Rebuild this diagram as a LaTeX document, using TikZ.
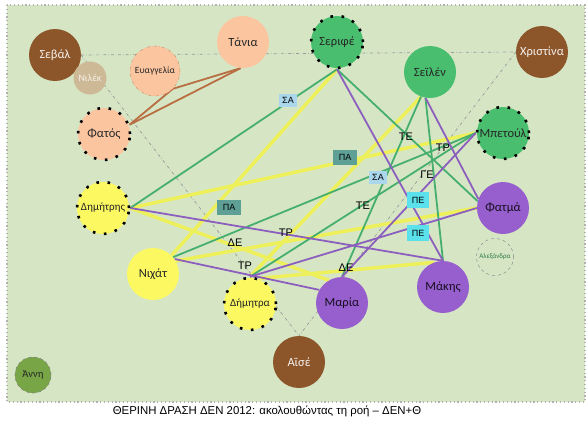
\documentclass[tikz,border=0pt]{standalone}
\usepackage{fontspec}
\setmainfont{Carlito}
\newfontfamily\labelfont{Liberation Sans}
\usepackage{xcolor}
\usepackage{tikz}
\usetikzlibrary{shapes.geometric, positioning}
\pgfdeclarelayer{background}
\pgfsetlayers{background,main}
\definecolor{bggreen}{RGB}{214,230,197}
\definecolor{nodebrown}{RGB}{140,86,42}
\definecolor{nodepeach}{RGB}{251,197,160}
\definecolor{nodeyellow}{RGB}{252,248,98}
\definecolor{nodegreen}{RGB}{72,190,110}
\definecolor{nodepurple}{RGB}{150,95,205}
\definecolor{nodeolive}{RGB}{120,165,70}
\definecolor{nodetan}{RGB}{205,185,150}
\definecolor{edgegreen}{RGB}{70,175,110}
\definecolor{edgeyellow}{RGB}{238,240,90}
\definecolor{edgepurple}{RGB}{140,95,190}
\definecolor{edgebrown}{RGB}{185,110,65}
\definecolor{boxblue}{RGB}{170,215,235}
\definecolor{boxteal}{RGB}{95,160,150}
\definecolor{boxcyan}{RGB}{90,225,235}
\tikzstyle{person} = [circle, minimum size=52pt, inner sep=0pt, font=\fontsize{12.5}{12.5}\selectfont]
\tikzstyle{brownnode} = [person, fill=nodebrown, text=white!92!nodebrown]
\tikzstyle{peachnode} = [person, fill=nodepeach, text=black!85]
\tikzstyle{yellownode} = [person, fill=nodeyellow, text=black!85]
\tikzstyle{greennode} = [person, fill=nodegreen, text=black!85]
\tikzstyle{purplenode} = [person, fill=nodepurple, text=black!85!nodepurple]
\tikzstyle{dotborder} = [draw=black, line width=2.6pt, dash pattern=on 2.6pt off 8.6pt]
\tikzstyle{guideline} = [draw=gray!80, dash dot, line width=0.7pt]
\tikzstyle{greenedge} = [draw=edgegreen, line width=1.8pt]
\tikzstyle{yellowedge} = [draw=edgeyellow, line width=3.5pt]
\tikzstyle{purpleedge} = [draw=edgepurple, line width=1.8pt]
\tikzstyle{brownedge} = [draw=edgebrown, line width=1.8pt]
\tikzstyle{tag} = [inner sep=1pt, font=\labelfont\fontsize{11}{11}\selectfont]
\tikzstyle{sabox} = [tag, fill=boxblue, minimum width=18pt, minimum height=13pt, font=\labelfont\fontsize{9}{9}\selectfont]
\tikzstyle{pabox} = [tag, fill=boxteal, minimum width=24pt, minimum height=15pt, font=\labelfont\fontsize{9}{9}\selectfont]
\tikzstyle{pebox} = [tag, fill=boxcyan, minimum width=22pt, minimum height=16pt, font=\labelfont\fontsize{9}{9}\selectfont]

\begin{document}
\begin{tikzpicture}[x=1pt, y=-1pt]
    \useasboundingbox (0,0) rectangle (588,421);
    \node[brownnode] (sebal) at (55,55) {Σεβάλ};
    \node[person, minimum size=33pt, fill=nodetan, text=white!80!nodetan, font=\fontsize{10}{10}\selectfont] (nilek) at (90,78) {Νιλέκ};
    \node[peachnode, minimum size=50pt, draw=edgebrown!80, dash dot, font=\fontsize{9.5}{10}\selectfont] (evangelia) at (155,71) {Ευαγγελία};
    \node[peachnode] (tania) at (243,42) {Τάνια};
    \node[peachnode, dotborder] (fatos) at (104,134) {Φατός};
    \node[yellownode, dotborder, font=\fontsize{11}{11}\selectfont] (dimitris) at (103,208) {Δημήτρης};
    \node[yellownode] (nihat) at (153,274) {Νιχάτ};
    \node[yellownode, dotborder, font=\fontsize{11}{11}\selectfont] (dimitra) at (250,304) {Δήμητρα};
    \node[brownnode] (aise) at (299,362) {Αϊσέ};
    \node[greennode, dotborder] (serife) at (337,42) {Σεριφέ};
    \node[greennode] (seilen) at (430,72) {Σεϊλέν};
    \node[brownnode] (christina) at (542,52) {Χριστίνα};
    \node[greennode, dotborder] (betoul) at (503,133) {Μπετούλ};
    \node[purplenode] (fatma) at (503,208) {Φατμά};
    \node[person, minimum size=37pt, draw=gray!90, dashed, line width=0.5pt, text=edgegreen!70!black, font=\fontsize{7}{7}\selectfont] (alexandra) at (495,257) {Αλεξάνδρα};
    \node[purplenode] (makis) at (443,287) {Μάκης};
    \node[purplenode] (maria) at (342,303) {Μαρία};
    \node[person, minimum size=36pt, fill=nodeolive, draw=gray, dashed, line width=0.6pt, text=black!85, font=\fontsize{10.5}{10.5}\selectfont] (anni) at (33,375) {Άννη};

    \begin{pgfonlayer}{background}
        \fill[bggreen] (7,5) rectangle (585,402);
        \draw[gray!60, line width=1.2pt, dash pattern=on 1.2pt off 2.6pt] (7,5) rectangle (585,402);
        \draw[guideline] (sebal.east) -- (christina.west);
        \draw[guideline] (sebal.east) -- (aise.north);
        \draw[guideline] (christina.west) -- (aise.north);
        \draw[brownedge] (fatos.20) -- (evangelia.-45) -- (tania.-95);
        \draw[brownedge] (fatos.20) -- (tania.-95);
        \draw[yellowedge] (serife.south) -- (nihat.45);
        \draw[yellowedge] (seilen.-110) -- (dimitra.north);
        \draw[yellowedge] (dimitris.east) -- (betoul.west);
        \draw[yellowedge] (nihat.30) -- (fatma.west);
        \draw[yellowedge] (dimitris.east) -- (maria.120);
        \draw[yellowedge] (dimitra.70) -- (makis.110);
        \draw[greenedge] (serife.south) -- (dimitris.east);
        \draw[greenedge] (serife.south) -- (fatma.165);
        \draw[greenedge] (seilen.-110) -- (maria.north);
        \draw[greenedge] (seilen.-100) -- (makis.north);
        \draw[greenedge] (betoul.west) -- (nihat.40);
        \draw[greenedge] (betoul.west) -- (dimitra.north);
        \draw[purpleedge] (serife.south) -- (makis.north);
        \draw[purpleedge] (seilen.-100) -- (fatma.160);
        \draw[purpleedge] (betoul.west) -- (maria.north);
        \draw[purpleedge] (dimitris.east) -- (makis.north);
        \draw[purpleedge] (nihat.35) -- (maria.150);
        \draw[purpleedge] (dimitra.north) -- (fatma.west);
    \end{pgfonlayer}

    \node[sabox] (sa1) at (288,100) {ΣΑ};
    \node[pabox] (pa1) at (345,157) {ΠΑ};
    \node[sabox] (sa2) at (378,177) {ΣΑ};
    \node[pabox] (pa2) at (229,207) {ΠΑ};
    \node[tag] (te1) at (406,137) {ΤΕ};
    \node[tag] (tr1) at (443,148) {ΤΡ};
    \node[tag] (ge) at (427,175) {ΓΕ};
    \node[tag] (te2) at (363,206) {ΤΕ};
    \node[pebox] (pe1) at (418,200) {ΠΕ};
    \node[pebox] (pe2) at (418,233) {ΠΕ};
    \node[tag] (tr2) at (286,233) {ΤΡ};
    \node[tag] (de1) at (235,243) {ΔΕ};
    \node[tag] (tr3) at (245,266) {ΤΡ};
    \node[tag] (de2) at (346,268) {ΔΕ};
    \node[font=\labelfont\fontsize{11.4}{11.4}\selectfont] (caption) at (267,411) {ΘΕΡΙΝΗ ΔΡΑΣΗ ΔΕΝ 2012: ακολουθώντας τη ροή – ΔΕΝ+Θ};
\end{tikzpicture}
\end{document}
